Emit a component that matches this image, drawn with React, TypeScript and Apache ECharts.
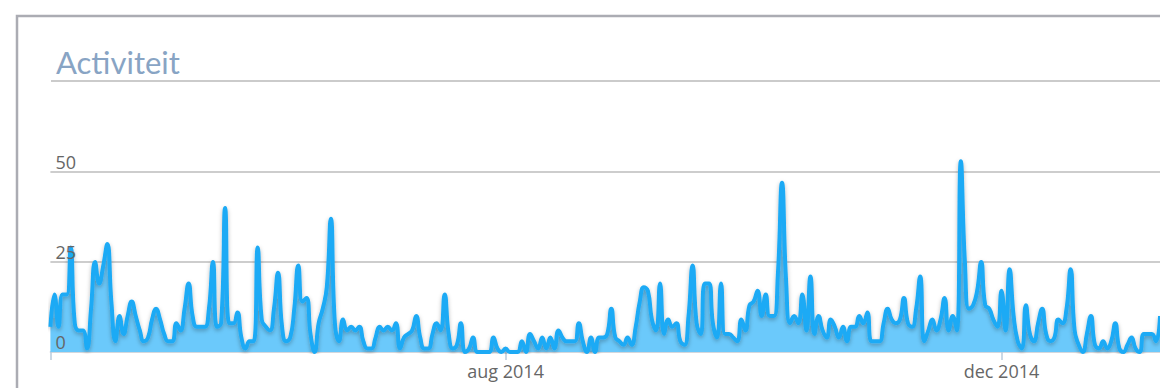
import React, { useEffect, useRef } from "react";
import * as echarts from "echarts";

const chartTitle = "Activiteit";
const startYear = 2014;
const startMonth = 3; // april (0-based)
const startDay = 11;
const monthNames = ["jan", "feb", "mrt", "apr", "mei", "jun", "jul", "aug", "sep", "okt", "nov", "dec"];
const yMin = 0;
const yMax = 75;
const yStep = 25;

// daily activity counts, 11 apr 2014 .. 9 jan 2015
const activity = [
  7, 16, 7, 16, 16, 29, 8, 6, 6, 1,
  12, 25, 19, 24, 30, 14, 3, 10, 5, 10,
  14, 10, 6, 3, 4, 9, 12, 9, 5, 3,
  3, 8, 6, 12, 19, 10, 7, 7, 7, 12,
  25, 7, 8, 40, 8, 8, 11, 4, 1, 3,
  3, 29, 9, 7, 6, 12, 22, 7, 3, 4,
  12, 24, 14, 15, 5, 0, 8, 12, 18, 37,
  8, 3, 9, 6, 7, 6, 7, 3, 1, 1,
  4, 7, 6, 7, 6, 8, 1, 4, 5, 6,
  10, 4, 1, 1, 5, 8, 6, 16, 5, 1,
  2, 8, 0, 1, 4, 0, 0, 0, 0, 4,
  1, 0, 1, 0, 0, 0, 3, 0, 5, 3,
  1, 4, 1, 4, 1, 6, 4, 3, 3, 3,
  8, 3, 0, 4, 0, 4, 4, 5, 12, 4,
  3, 2, 4, 2, 7, 14, 18, 17, 9, 6,
  19, 5, 9, 7, 8, 3, 2, 10, 24, 8,
  5, 19, 19, 8, 4, 19, 5, 5, 4, 3,
  9, 6, 13, 14, 17, 10, 16, 10, 10, 22,
  47, 20, 8, 10, 8, 16, 6, 21, 5, 10,
  6, 4, 9, 7, 4, 7, 3, 7, 7, 10,
  8, 11, 3, 3, 3, 8, 12, 9, 8, 9,
  15, 8, 7, 12, 21, 3, 6, 9, 6, 9,
  15, 6, 10, 6, 53, 25, 12, 13, 17, 25,
  13, 12, 9, 7, 17, 6, 23, 10, 3, 1,
  13, 5, 3, 8, 12, 5, 3, 4, 9, 8,
  12, 23, 6, 2, 0, 5, 10, 2, 1, 3,
  1, 3, 8, 1, 0, 2, 4, 1, 0, 5,
  5, 5, 3, 10,
];

const categories = activity.map((_, i) => {
  const d = new Date(Date.UTC(startYear, startMonth, startDay + i));
  return d.toISOString().slice(0, 10);
});

function isQuarterMonthStart(v: string) {
  const [y, m, d] = v.split("-").map(Number);
  return d === 1 && (m - 1 - 3) % 4 === 0;
}

function monthLabel(v: string) {
  const [y, m] = v.split("-").map(Number);
  return `${monthNames[m - 1]} ${y}`;
}

export default function App() {
  const ref = useRef<HTMLDivElement>(null);
  useEffect(() => {
    if (!ref.current) return;
    const chart = echarts.init(ref.current, null, { renderer: "svg" });
    const labelStyle = {
      fontFamily: "Open Sans",
      fontSize: 18,
      color: "#666666",
    };
    chart.setOption({
      animation: false,
      backgroundColor: "#ffffff",
      grid: { left: 50.4, width: 1110.6, top: 82, bottom: 36, containLabel: false },
      xAxis: {
        type: "category",
        data: categories,
        boundaryGap: false,
        axisLine: { show: true, lineStyle: { color: "#c4cad2", width: 1.5 } },
        axisTick: {
          show: true,
          length: 8,
          lineStyle: { color: "#b9cbdd", width: 1.5 },
          interval: (i: number, v: string) => i === 0 || isQuarterMonthStart(v),
        },
        axisLabel: {
          ...labelStyle,
          margin: 10,
          interval: (i: number, v: string) => isQuarterMonthStart(v),
          formatter: (v: string) => monthLabel(v),
        },
        splitLine: { show: false },
      },
      yAxis: [
        {
          type: "value",
          min: yMin,
          max: yMax,
          interval: yStep,
          position: "left",
          axisLine: { show: false },
          axisTick: { show: false },
          axisLabel: { show: false },
          splitLine: { show: true, showMaxLine: false, showMinLine: false, lineStyle: { color: "#bdbdbd", width: 1.5 } },
        },
        {
          type: "value",
          min: yMin,
          max: yMax,
          interval: yStep,
          position: "left",
          z: 10,
          axisLine: { show: false },
          axisTick: { show: false },
          splitLine: { show: false },
          axisLabel: {
            ...labelStyle,
            inside: true,
            align: "left",
            verticalAlign: "bottom",
            margin: 5,
            padding: [0, 0, 1, 0],
            showMaxLabel: false,
            formatter: (v: number) => (v === yMax ? "" : String(v)),
          },
        },
      ],
      series: [
        {
          type: "line",
          data: activity,
          yAxisIndex: 0,
          smooth: true,
          symbol: "none",
          clip: true,
          lineStyle: {
            color: "#1eaaf5",
            width: 4,
            shadowColor: "rgba(0,0,0,0.28)",
            shadowBlur: 4,
            shadowOffsetY: 2,
          },
          itemStyle: { color: "#1eaaf5" },
          areaStyle: { color: "#6bc9fb", opacity: 1 },
        },
      ],
      graphic: [
        {
          type: "polyline",
          silent: true,
          shape: { points: [[17, 400], [17, 16], [1175, 16]] },
          style: { stroke: "#abacb3", lineWidth: 2.5, fill: null },
        },
        {
          type: "line",
          silent: true,
          shape: { x1: 51, y1: 81, x2: 1175, y2: 81 },
          style: { stroke: "#cbcbcb", lineWidth: 2 },
        },
        {
          type: "text",
          silent: true,
          x: 56,
          y: 62,
          style: {
            text: chartTitle,
            fontFamily: "Lato",
            fontWeight: 400,
            fontSize: 31,
            fill: "#88a4c4",
            verticalAlign: "middle",
          },
        },
      ],
    });
    return () => chart.dispose();
  }, []);
  return (
    <div
      ref={ref}
      style={{ position: "fixed", left: 0, top: 0, width: 1160, height: 388, background: "#fff" }}
    />
  );
}
